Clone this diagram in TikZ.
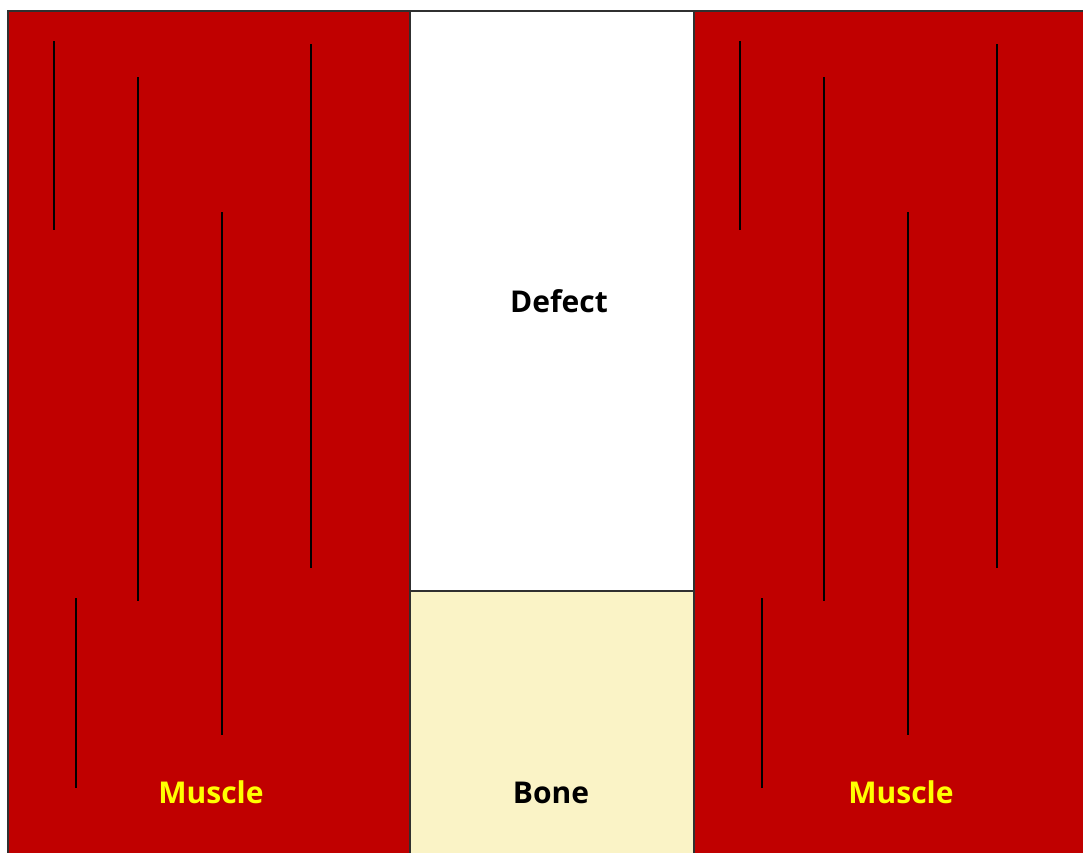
\documentclass[tikz,border=0pt]{standalone}
\usepackage{fontspec}
\setmainfont{Open Sans}
\definecolor{muscle}{HTML}{C00000}
\definecolor{bone}{HTML}{FAF3C6}
\definecolor{edge}{HTML}{303030}
\definecolor{labelyellow}{HTML}{FFFF00}
\begin{document}
\begin{tikzpicture}[x=1pt,y=-1pt,
  region/.style={draw=edge,line width=1.4pt},
  fiber/.style={draw=black,line width=2.4pt},
  lbl/.style={font=\fontsize{30}{34}\selectfont\bfseries,inner sep=0pt},
]
\useasboundingbox (0,0) rectangle (1083,852);
\fill[white] (0,0) rectangle (1083,852);
% regions
\draw[region,fill=muscle] (8,11) rectangle (410,860);
\draw[region,fill=white] (410,11) rectangle (694,591);
\draw[region,fill=bone] (410,591) rectangle (694,860);
\draw[region,fill=muscle] (694,11) rectangle (1090,860);
% fibers
\foreach \dx in {0,686}{
  \draw[fiber] (54+\dx,41) -- (54+\dx,230);
  \draw[fiber] (138+\dx,77) -- (138+\dx,601);
  \draw[fiber] (222+\dx,212) -- (222+\dx,735);
  \draw[fiber] (311+\dx,44) -- (311+\dx,568);
  \draw[fiber] (76+\dx,598) -- (76+\dx,788);
}
% labels
\node[lbl,text=black] (defect) at (559,301) {Defect};
\node[lbl,text=black] (bonelbl) at (551,793) {Bone};
\node[lbl,text=labelyellow] (muscleL) at (211,792) {Muscle};
\node[lbl,text=labelyellow] (muscleR) at (901,792) {Muscle};
\end{tikzpicture}
\end{document}
